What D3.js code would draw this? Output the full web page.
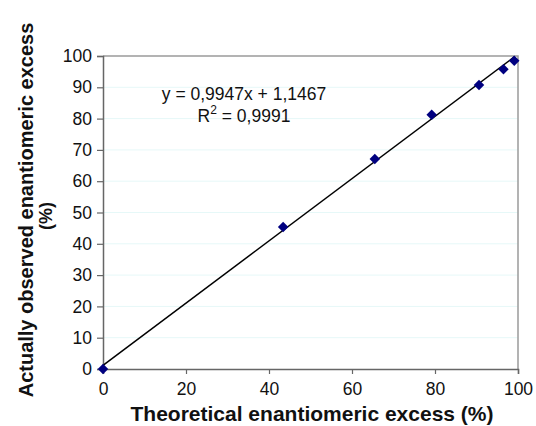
<!DOCTYPE html>
<html>
<head>
<meta charset="utf-8">
<script src="https://cdn.jsdelivr.net/npm/d3@7"></script>
<style>
    body { margin: 0; background: #fff; }
    text { font-family: 'Liberation Sans', Arial, sans-serif; }
</style>
</head>
<body>
<div id="chart"></div>
<script>
// measured points: theoretical ee vs observed ee (%)
const theoretical = [0, 43.4, 65.5, 79.2, 90.6, 96.5, 99.1];
const observed = [0, 45.4, 67.1, 81.2, 90.7, 95.8, 98.5];
const xTicks = [0, 20, 40, 60, 80, 100];
const yTicks = [0, 10, 20, 30, 40, 50, 60, 70, 80, 90, 100];
// trendline as reported
const slope = 0.9947, intercept = 1.1467;
const eqLines = ['y = 0,9947x + 1,1467', 'R² = 0,9991'];

const width = 536, height = 426;
const margin = { top: 56, right: 18, bottom: 57, left: 103 };

const svg = d3.select('#chart')
    .append('svg')
    .attr('width', width)
    .attr('height', height);

const x = d3.scaleLinear().domain([0, 100]).range([margin.left, width - margin.right]);
const y = d3.scaleLinear().domain([0, 100]).range([height - margin.bottom, margin.top]);

// faint gridlines
svg.append('g')
    .selectAll('line')
    .data(yTicks.slice(1, -1))
    .enter()
    .append('line')
    .attr('x1', x(0)).attr('x2', x(100))
    .attr('y1', d => y(d)).attr('y2', d => y(d))
    .attr('stroke', '#e6f8f8')
    .attr('stroke-width', 1);

// plot frame (top / right)
svg.append('path')
    .attr('d', `M${x(0)},${y(100)}H${x(100)}V${y(0)}`)
    .attr('fill', 'none')
    .attr('stroke', '#9a9a9a')
    .attr('stroke-width', 1.5);

const xAxis = svg.append('g')
    .attr('transform', `translate(0,${y(0)})`)
    .call(d3.axisBottom(x).tickValues(xTicks).tickSize(5).tickPadding(9));

const yAxis = svg.append('g')
    .attr('transform', `translate(${x(0)},0)`)
    .call(d3.axisLeft(y).tickValues(yTicks).tickSize(6).tickPadding(5));

[xAxis, yAxis].forEach(g => {
    g.select('.domain').attr('stroke', '#666').attr('stroke-width', 1.5);
    g.selectAll('.tick line').attr('stroke', '#666').attr('stroke-width', 1.2);
    g.selectAll('.tick text')
        .attr('fill', '#111')
        .style('font-size', '17.5px')
        .style('font-family', "'Liberation Sans', Arial, sans-serif");
});

// trendline over data range
const xMin = d3.min(theoretical), xMax = d3.max(theoretical);
svg.append('line')
    .attr('x1', x(xMin)).attr('y1', y(slope * xMin + intercept))
    .attr('x2', x(xMax)).attr('y2', y(slope * xMax + intercept))
    .attr('stroke', '#000')
    .attr('stroke-width', 1.5);

// diamond markers
const diamond = d3.symbol().type(d3.symbolDiamond2).size(70);
svg.append('g')
    .selectAll('path')
    .data(theoretical.map((t, i) => [t, observed[i]]))
    .enter()
    .append('path')
    .attr('d', diamond)
    .attr('transform', d => `translate(${x(d[0])},${y(d[1])})`)
    .attr('fill', '#000080');

// equation label
svg.append('text')
    .attr('x', 244).attr('y', 100)
    .attr('text-anchor', 'middle')
    .style('font-size', '17.5px')
    .attr('fill', '#111')
    .text(eqLines[0]);

const r2 = svg.append('text')
    .attr('x', 244).attr('y', 122)
    .attr('text-anchor', 'middle')
    .style('font-size', '17.5px')
    .attr('fill', '#111');
r2.append('tspan').text('R');
r2.append('tspan').attr('dy', -8).style('font-size', '12px').text('2');
r2.append('tspan').attr('dy', 8).text(eqLines[1].slice(2));

// axis titles
svg.append('text')
    .attr('x', 312)
    .attr('y', 421)
    .attr('text-anchor', 'middle')
    .style('font-size', '21px')
    .style('font-weight', 'bold')
    .attr('fill', '#111')
    .text('Theoretical enantiomeric excess (%)');

const yTitle = svg.append('text')
    .attr('transform', 'translate(33,210) rotate(-90)')
    .attr('text-anchor', 'middle')
    .style('font-size', '20px')
    .style('font-weight', 'bold')
    .attr('fill', '#111');
yTitle.append('tspan').attr('x', 0).attr('y', 0).text('Actually observed enantiomeric excess');
yTitle.append('tspan').attr('x', -6).attr('y', 19).style('font-size', '18px').text('(%)');
</script>
</body>
</html>
